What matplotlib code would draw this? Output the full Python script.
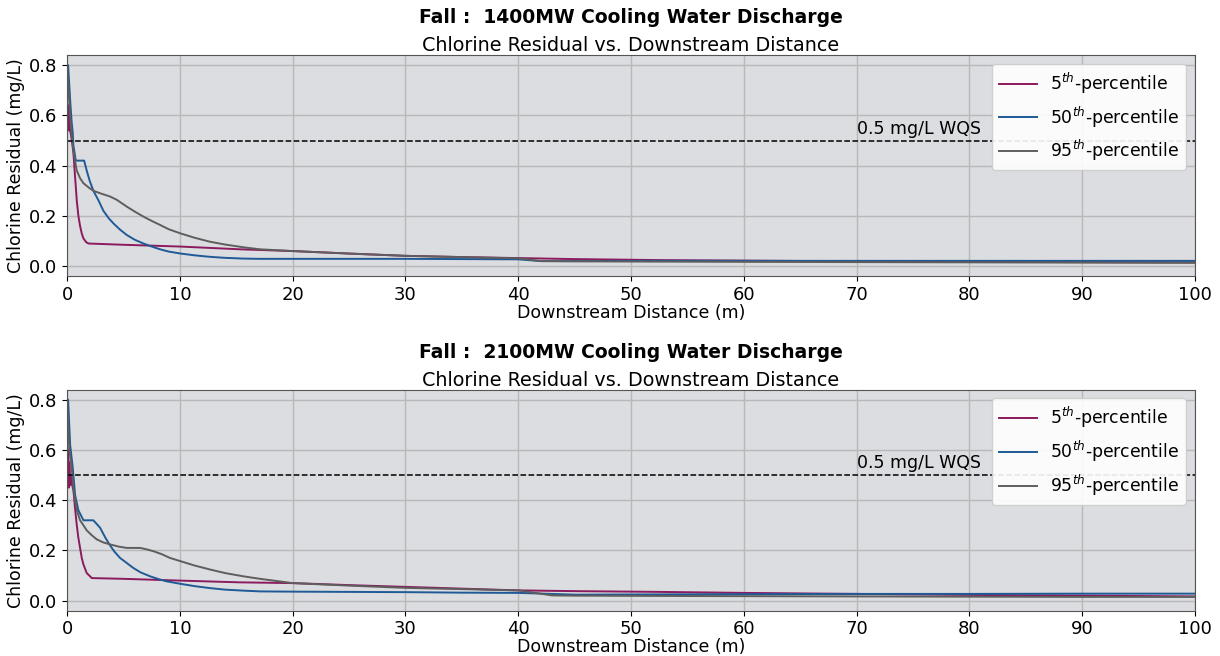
import numpy as np
import matplotlib.pyplot as plt

# Distanz (m) und Chlorrest (mg/L) je Perzentil, 1400MW-Fall
x_p5_1400 = [0.0, 0.05, 0.1, 0.15, 0.2, 0.27, 0.35, 0.45, 0.56, 0.7, 0.86, 1.0, 1.15, 1.3, 1.45, 1.7, 1.9,
             5.0, 10.0, 15.3, 20.0, 25.0, 30.0, 35.0, 40.0, 45.0, 52.5, 60.0, 70.0, 80.0, 90.0, 100.0]
y_p5_1400 = [0.66, 0.55, 0.64, 0.54, 0.61, 0.54, 0.52, 0.49, 0.45, 0.36, 0.26, 0.2, 0.16, 0.13, 0.11, 0.095, 0.09,
             0.085, 0.078, 0.067, 0.06, 0.05, 0.041, 0.036, 0.032, 0.028, 0.024, 0.022, 0.019, 0.017, 0.016, 0.015]

x_p50_1400 = [0.0, 0.09, 0.27, 0.41, 0.5, 0.56, 0.77, 1.0, 1.3, 1.51, 1.74, 2.0, 2.33, 2.8, 3.22, 3.7, 4.11, 4.7,
              5.29, 6.0, 6.77, 7.5, 8.24, 9.0, 10.07, 11.3, 12.68, 14.0, 15.63, 17.1, 20.0, 25.0, 30.0, 35.0, 40.0,
              42.0, 45.0, 52.0, 60.0, 70.0, 80.0, 90.0, 100.0]
y_p50_1400 = [0.8, 0.8, 0.66, 0.57, 0.53, 0.48, 0.42, 0.42, 0.42, 0.42, 0.38, 0.34, 0.3, 0.26, 0.22, 0.19, 0.17, 0.145,
              0.124, 0.105, 0.09, 0.078, 0.067, 0.058, 0.05, 0.043, 0.037, 0.033, 0.03, 0.029, 0.029, 0.029, 0.029,
              0.028, 0.027, 0.02, 0.02, 0.021, 0.021, 0.021, 0.021, 0.021, 0.021]

x_p95_1400 = [0.0, 0.1, 0.27, 0.41, 0.56, 0.7, 0.86, 1.15, 1.45, 2.0, 2.33, 2.93, 3.81, 4.4, 5.29, 6.0, 6.77, 7.5,
              8.24, 9.0, 10.07, 11.3, 12.68, 14.0, 15.63, 17.1, 20.0, 25.0, 30.0, 35.0, 40.0, 42.0, 45.0, 52.0,
              60.0, 70.0, 80.0, 90.0, 100.0]
y_p95_1400 = [0.8, 0.72, 0.6, 0.52, 0.46, 0.42, 0.38, 0.35, 0.33, 0.31, 0.3, 0.29, 0.277, 0.264, 0.237, 0.217, 0.197,
              0.18, 0.164, 0.147, 0.13, 0.113, 0.097, 0.086, 0.075, 0.067, 0.06, 0.05, 0.041, 0.036, 0.031, 0.02,
              0.019, 0.018, 0.017, 0.016, 0.015, 0.014, 0.013]

# Gleiche Größen für den 2100MW-Fall
x_p5_2100 = [0.0, 0.05, 0.1, 0.15, 0.2, 0.27, 0.35, 0.45, 0.56, 0.7, 0.86, 1.0, 1.15, 1.3, 1.45, 1.74, 2.19,
             5.0, 10.0, 15.3, 20.0, 25.0, 30.0, 35.0, 40.0, 45.0, 52.5, 60.0, 70.0, 80.0, 90.0, 100.0]
y_p5_2100 = [0.66, 0.5, 0.6, 0.45, 0.55, 0.46, 0.5, 0.46, 0.44, 0.37, 0.3, 0.25, 0.21, 0.17, 0.144, 0.11, 0.09,
             0.087, 0.08, 0.073, 0.07, 0.062, 0.055, 0.048, 0.041, 0.038, 0.035, 0.031, 0.027, 0.023, 0.02, 0.017]

x_p50_2100 = [0.0, 0.09, 0.27, 0.5, 0.71, 1.0, 1.45, 1.9, 2.33, 2.63, 2.93, 3.4, 3.81, 4.2, 4.7, 5.29, 5.88, 6.5,
              7.36, 8.1, 8.83, 10.07, 11.3, 12.68, 14.0, 15.63, 17.1, 20.0, 25.0, 30.0, 35.0, 40.0, 43.0, 45.0,
              52.0, 60.0, 70.0, 80.0, 90.0, 100.0]
y_p50_2100 = [0.8, 0.8, 0.62, 0.53, 0.42, 0.36, 0.32, 0.32, 0.32, 0.305, 0.29, 0.25, 0.22, 0.195, 0.17, 0.15, 0.13,
              0.113, 0.097, 0.086, 0.077, 0.067, 0.058, 0.05, 0.044, 0.04, 0.037, 0.036, 0.035, 0.034, 0.032,
              0.031, 0.027, 0.024, 0.025, 0.026, 0.027, 0.027, 0.028, 0.028]

x_p95_2100 = [0.0, 0.03, 0.2, 0.41, 0.6, 0.86, 1.15, 1.45, 1.74, 2.2, 2.63, 3.2, 3.81, 4.6, 5.29, 6.0, 6.47, 7.0,
              7.65, 8.4, 9.13, 10.07, 11.3, 12.68, 14.0, 15.63, 17.1, 20.0, 25.0, 30.0, 35.0, 40.0, 43.0, 45.0,
              52.0, 60.0, 70.0, 80.0, 90.0, 100.0]
y_p95_2100 = [0.8, 0.76, 0.6, 0.53, 0.43, 0.36, 0.32, 0.3, 0.28, 0.26, 0.244, 0.232, 0.224, 0.215, 0.21, 0.21,
              0.21, 0.205, 0.197, 0.185, 0.17, 0.157, 0.14, 0.124, 0.11, 0.097, 0.087, 0.07, 0.06, 0.051, 0.046,
              0.041, 0.021, 0.02, 0.019, 0.018, 0.017, 0.016, 0.015, 0.015]

wqs = 0.5
leistungen = ["1400MW", "2100MW"]
daten = [
    [(x_p5_1400, y_p5_1400), (x_p50_1400, y_p50_1400), (x_p95_1400, y_p95_1400)],
    [(x_p5_2100, y_p5_2100), (x_p50_2100, y_p50_2100), (x_p95_2100, y_p95_2100)],
]
labels = [r"5$^{th}$-percentile", r"50$^{th}$-percentile", r"95$^{th}$-percentile"]
farben = ["#8b1a5e", "#1f5a96", "#5e5e5e"]

fig = plt.figure(figsize=(12.2, 6.56), dpi=100)
positionen = [[0.055, 0.579, 0.9245, 0.337], [0.055, 0.069, 0.9245, 0.337]]

for pos, leistung, kurven in zip(positionen, leistungen, daten):
    ax = fig.add_axes(pos)
    ax.set_facecolor("#dcdde0")
    for (xs, ys), lab, col in zip(kurven, labels, farben):
        ax.plot(xs, ys, color=col, lw=1.4, label=lab)
    ax.axhline(wqs, color="black", ls="--", lw=1.1)
    ax.text(70, wqs + 0.012, "0.5 mg/L WQS", fontsize=12.5, ha="left", va="bottom")

    ax.set_xlim(0, 100)
    ax.set_ylim(-0.04, 0.84)
    ax.set_xticks(np.arange(0, 101, 10))
    ax.set_yticks([0.0, 0.2, 0.4, 0.6, 0.8])
    ax.grid(True, color="#b8b8b8", lw=1.0)
    ax.set_axisbelow(True)
    ax.tick_params(labelsize=13)
    for s in ax.spines.values():
        s.set_color("#555555")

    ax.set_xlabel("Downstream Distance (m)", fontsize=12.5, labelpad=0)
    ax.set_ylabel("Chlorine Residual (mg/L)", fontsize=12.5, labelpad=3)
    ax.set_title("Chlorine Residual vs. Downstream Distance", fontsize=13.8, pad=2)
    ax.text(0.5, 1.125, "Fall :  " + leistung + " Cooling Water Discharge", transform=ax.transAxes,
            ha="center", va="bottom", fontsize=13.5, fontweight="bold")
    ax.legend(loc="upper right", fontsize=12.4, framealpha=0.9, handlelength=2.2)

fig.savefig("out.png", dpi=100)
